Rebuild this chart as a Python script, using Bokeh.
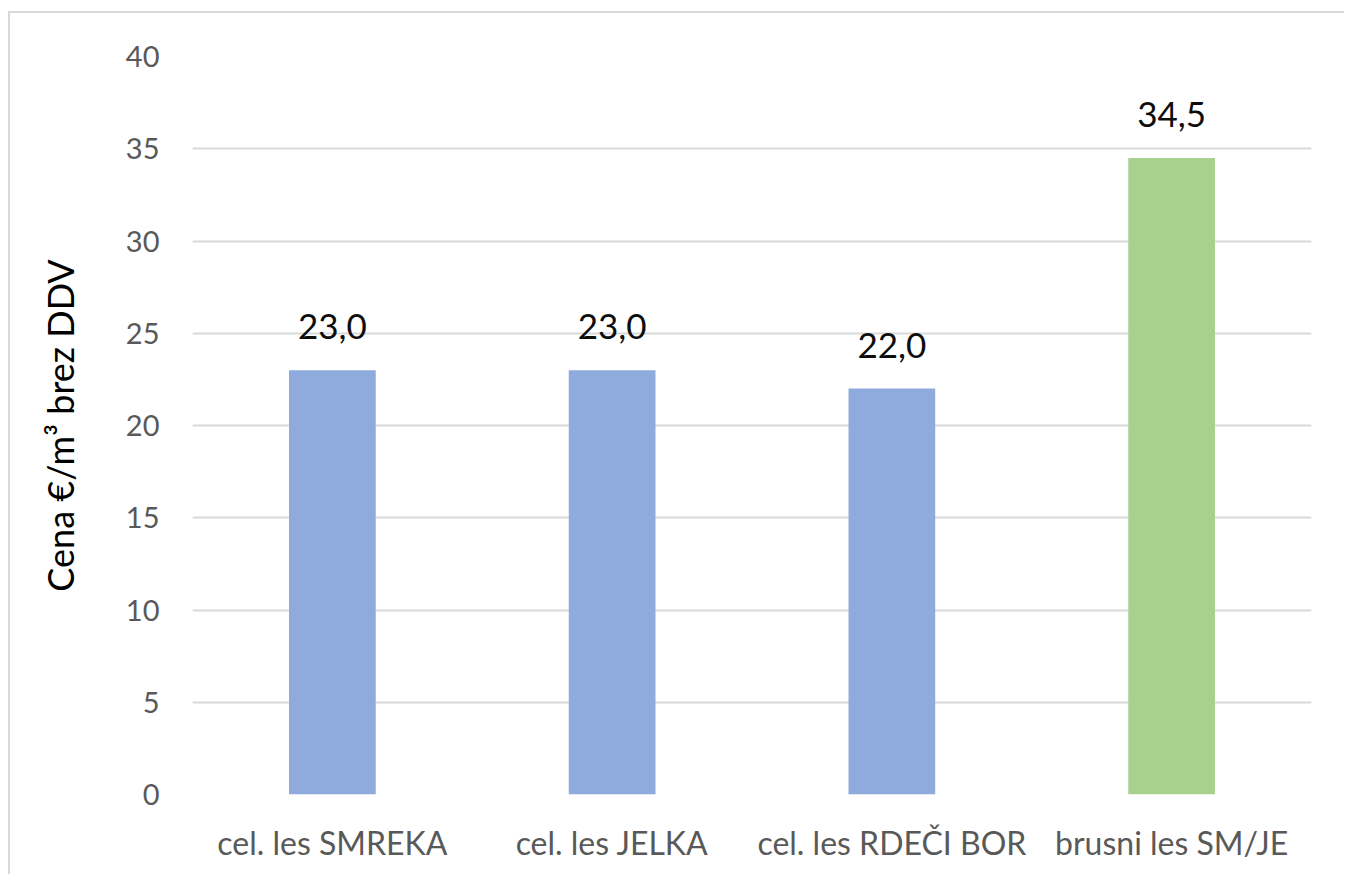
from bokeh.plotting import figure
from bokeh.models import ColumnDataSource, LabelSet, FactorRange, Range1d, SingleIntervalTicker
from bokeh.core.properties import value
from bokeh.embed import file_html
from bokeh.resources import INLINE

categories = ["cel. les SMREKA", "cel. les JELKA", "cel. les RDEČI BOR", "brusni les SM/JE"]
values = [23.0, 23.0, 22.0, 34.5]
colors = ["#8FAADC", "#8FAADC", "#8FAADC", "#A9D18E"]
labels = [f"{v:.1f}".replace(".", ",") for v in values]

FONT = "Lato"

source = ColumnDataSource(dict(cat=categories, val=values, color=colors, lab=labels))

p = figure(
    x_range=FactorRange(*categories, range_padding=0),
    y_range=Range1d(0, 40),
    width=1336, height=863,
    output_backend="svg", toolbar_location=None,
    min_border_left=182, min_border_right=35,
    min_border_top=43, min_border_bottom=82,
)
p.margin = (11, 0, 0, 8)
p.styles = {"border-left": "2px solid #D9D9D9", "border-top": "2px solid #D9D9D9"}
p.outline_line_color = None

p.vbar(x="cat", top="val", width=0.31, color="color", source=source, line_color=None)

p.add_layout(LabelSet(x="cat", y="val", text="lab", source=source,
                      text_align="center", text_baseline="alphabetic",
                      y_offset=31, text_font=value(FONT), text_font_size="35px",
                      text_color="#0d0d0d"))

p.yaxis.ticker = SingleIntervalTicker(interval=5)
p.yaxis.axis_line_color = None
p.yaxis.major_tick_line_color = None
p.yaxis.minor_tick_line_color = None
p.yaxis.major_label_text_font = FONT
p.yaxis.major_label_text_font_size = "29px"
p.yaxis.major_label_text_color = "#595959"
p.yaxis.major_label_standoff = 27
p.yaxis.axis_label = "Cena €/m³ brez DDV"
p.yaxis.axis_label_text_font = FONT
p.yaxis.axis_label_text_font_size = "36px"
p.yaxis.axis_label_text_font_style = "normal"
p.yaxis.axis_label_text_color = "#000000"
p.yaxis.axis_label_standoff = 41

p.xaxis.axis_line_color = None
p.xaxis.major_tick_line_color = None
p.xaxis.major_label_text_font = FONT
p.xaxis.major_label_text_font_size = "32px"
p.xaxis.major_label_text_color = "#595959"
p.xaxis.major_label_standoff = 22

p.xgrid.grid_line_color = None
p.ygrid.grid_line_color = "#D9D9D9"
p.ygrid.grid_line_width = 2

open("out.html", "w").write(file_html(p, INLINE))
